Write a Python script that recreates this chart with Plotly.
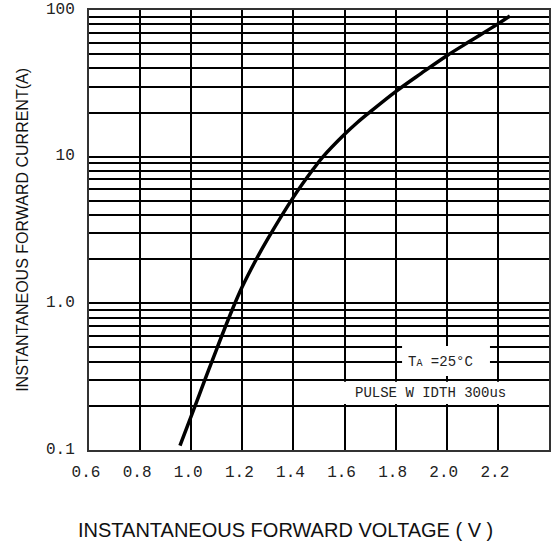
import math
import plotly.graph_objects as go

# Forward characteristic
voltage = [0.956, 1.0, 1.05, 1.1, 1.16, 1.2, 1.25, 1.3, 1.4, 1.477, 1.516, 1.6, 1.65, 1.7, 1.8, 1.9, 2.0, 2.1, 2.2, 2.247]
current = [0.107, 0.17, 0.29, 0.49, 0.90, 1.30, 1.93, 2.76, 5.3, 8.2, 10.0, 14.2, 17.1, 20.2, 27.8, 37.0, 48.8, 62.6, 80.4, 91.1]

x_ticks = [0.6, 0.8, 1.0, 1.2, 1.4, 1.6, 1.8, 2.0, 2.2]
x_tick_text = ["0.6", "0.8", "1.0", "1.2", "1.4", "1.6", "1.8", "2.0", "2.2"]
y_ticks = [0.1, 1.0, 10, 100]
y_tick_text = ["0.1", "1.0", "10", "100"]
y_minor = [m * d for d in (0.1, 1, 10) for m in range(2, 10)]

X_RANGE = [0.6, 2.4]
Y_RANGE = [-1, 2]  # log10


def px_x(v):
    return (v - X_RANGE[0]) / (X_RANGE[1] - X_RANGE[0])


def px_y(v):
    return (math.log10(v) - Y_RANGE[0]) / (Y_RANGE[1] - Y_RANGE[0])


tick_font = dict(family="Liberation Mono, DejaVu Sans Mono, monospace", size=16, color="#222")
title_font = dict(family="Liberation Sans, Arial, sans-serif", size=20, color="#111")
ytitle_font = dict(family="Liberation Sans, Arial, sans-serif", size=16, color="#111")
ann_font = dict(family="Liberation Mono, DejaVu Sans Mono, monospace", size=14, color="#222")

fig = go.Figure()
fig.add_trace(go.Scatter(
    x=voltage, y=current, mode="lines",
    line=dict(color="black", width=3.5, shape="spline", smoothing=1.0),
    showlegend=False, hoverinfo="x+y",
))

grid = dict(showgrid=True, gridcolor="black", gridwidth=2)

fig.update_xaxes(
    range=X_RANGE, tickvals=x_ticks, ticktext=x_tick_text,
    tickfont=tick_font, ticks="", ticklabelstandoff=6, ticklabelshift=-3,
    ticklabeloverflow="allow",
    showline=True, linecolor="#333", linewidth=2, mirror=True,
    zeroline=False, automargin=False, **grid,
)
fig.update_yaxes(
    type="log", range=Y_RANGE, tickvals=y_ticks, ticktext=y_tick_text,
    tickfont=tick_font, ticks="", ticklabelstandoff=9, ticklabelshift=-2,
    ticklabeloverflow="allow",
    showline=True, linecolor="#333", linewidth=2, mirror=True,
    zeroline=False, automargin=False, **grid,
    minor=dict(tickvals=y_minor, showgrid=True, gridcolor="black", gridwidth=2, ticks=""),
)

# white label boxes (cut the grid like the reference)
fig.add_shape(type="rect", xref="paper", yref="paper",
              x0=px_x(1.825), x1=px_x(2.169), y0=px_y(0.32), y1=px_y(0.511),
              fillcolor="white", line=dict(width=0), layer="above")
fig.add_shape(type="rect", xref="paper", yref="paper",
              x0=px_x(1.58), x1=px_x(2.39), y0=px_y(0.206), y1=px_y(0.292),
              fillcolor="white", line=dict(width=0), layer="above")

fig.add_annotation(xref="paper", yref="paper", x=px_x(1.977), y=px_y(0.4),
                   text="T<span style='font-size:10px'>A</span> =25°C",
                   showarrow=False, font=ann_font, xanchor="center", yanchor="middle")
fig.add_annotation(xref="paper", yref="paper", x=px_x(1.935), y=px_y(0.245),
                   text="PULSE W IDTH 300us",
                   showarrow=False, font=ann_font, xanchor="center", yanchor="middle")

# axis titles
fig.add_annotation(xref="paper", yref="paper", x=0.428, y=-0.182,
                   text="INSTANTANEOUS FORWARD VOLTAGE ( V )",
                   showarrow=False, font=title_font, xanchor="center", yanchor="middle")
fig.add_annotation(xref="paper", yref="paper", x=-0.146, y=0.5, textangle=-90,
                   text="INSTANTANEOUS FORWARD CURRENT(A)",
                   showarrow=False, font=ytitle_font, xanchor="center", yanchor="middle")

fig.update_layout(
    width=554, height=554,
    margin=dict(l=89, r=5, t=10, b=104),
    paper_bgcolor="white", plot_bgcolor="white",
)

# remove the default page margin so the figure fills the window exactly
fig.write_html("out.html", config={"displayModeBar": False},
               post_script="document.body.style.margin='0px';")
